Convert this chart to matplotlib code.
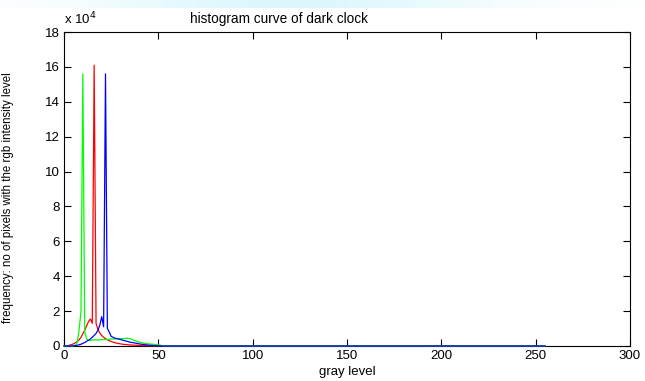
import numpy as np
import matplotlib
matplotlib.use('Agg')
import matplotlib.pyplot as plt

plt.rcParams['font.family'] = ['Liberation Sans', 'DejaVu Sans']

# pixel counts per gray level (in units of 1e4), levels 0..59, zero afterwards
red_head = [0, 0, 0.02, 0.05, 0.08, 0.12, 0.18, 0.25, 0.35, 0.5,
            0.7, 0.9, 1.15, 1.4, 1.55, 1.3, 16.1, 1.3, 0.95, 0.75,
            0.6, 0.5, 0.42, 0.36, 0.3, 0.26, 0.22, 0.19, 0.16, 0.14,
            0.12, 0.1, 0.09, 0.08, 0.07, 0.06, 0.05, 0.05, 0.04, 0.04,
            0.03, 0.03, 0.02, 0.02, 0.02, 0.01, 0.01, 0.01, 0, 0,
            0, 0, 0, 0, 0, 0, 0, 0, 0, 0]
green_head = [0, 0, 0, 0, 0, 0, 0.05, 0.2, 0.9, 2.0,
              15.6, 0.8, 0.4, 0.32, 0.32, 0.34, 0.35, 0.35, 0.35, 0.35,
              0.36, 0.36, 0.37, 0.37, 0.38, 0.4, 0.4, 0.4, 0.41, 0.41,
              0.42, 0.42, 0.43, 0.44, 0.44, 0.42, 0.38, 0.33, 0.29, 0.25,
              0.22, 0.2, 0.17, 0.15, 0.13, 0.12, 0.11, 0.1, 0.09, 0.08,
              0.07, 0.05, 0.02, 0, 0, 0, 0, 0, 0, 0]
blue_head = [0, 0, 0, 0, 0, 0.01, 0.02, 0.04, 0.07, 0.1,
             0.15, 0.2, 0.27, 0.33, 0.4, 0.5, 0.6, 0.72, 0.9, 1.2,
             1.68, 1.1, 15.6, 1.0, 0.8, 0.55, 0.5, 0.45, 0.42, 0.4,
             0.37, 0.34, 0.31, 0.28, 0.25, 0.22, 0.2, 0.18, 0.16, 0.14,
             0.12, 0.1, 0.09, 0.07, 0.06, 0.05, 0.04, 0.03, 0.02, 0.01,
             0, 0, 0, 0, 0, 0, 0, 0, 0, 0]
tail = [0] * 196
levels = list(range(0, 256))

red = np.array(red_head + tail) * 1e4
green = np.array(green_head + tail) * 1e4
blue = np.array(blue_head + tail) * 1e4

fig = plt.figure(figsize=(6.45, 3.81), dpi=100)

# faint slide banner at the top edge
band = fig.add_axes([0, 0.978, 1, 0.022])
grad = np.linspace(0, 1, 256)
prof = np.exp(-((grad - 0.45) / 0.3) ** 2)
img = np.ones((1, 256, 3))
img[0, :, 0] = 1 - 0.14 * prof
img[0, :, 1] = 1 - 0.03 * prof
img[0, :, 2] = 1 - 0.01 * prof
band.imshow(img, aspect='auto')
band.axis('off')

ax = fig.add_axes([0.0992, 0.0919, 0.8775, 0.8241])
ax.plot(levels, red, color='r', lw=0.9, clip_on=False, zorder=3)
ax.plot(levels, green, color='#00ff00', lw=0.9, clip_on=False, zorder=3)
ax.plot(levels, blue, color='b', lw=0.9, clip_on=False, zorder=3)

ax.set_xlim(0, 300)
ax.set_ylim(0, 18e4)
ax.set_xticks(np.arange(0, 301, 50))
ax.set_yticks(np.arange(0, 18.1e4, 2e4))
ax.set_yticklabels([str(v) for v in range(0, 19, 2)])
ax.tick_params(direction='in', top=True, right=True, labelsize=9.5, length=5, width=0.8, pad=3)
for s in ax.spines.values():
    s.set_linewidth(0.8)

ax.text(0.38, 1.018, 'histogram curve of dark clock', transform=ax.transAxes,
        fontsize=9.8, ha='center', va='bottom')
ax.set_xlabel('gray level', fontsize=9.5, labelpad=3)
ax.set_ylabel('frequency: no of pixels with the rgb intensity level', fontsize=8.3)
ax.yaxis.set_label_coords(-0.088, 0.474)
ax.text(0, 1.015, r'x 10$^{4}$', transform=ax.transAxes, fontsize=9.5, va='bottom')

fig.savefig('out.png', dpi=100)
